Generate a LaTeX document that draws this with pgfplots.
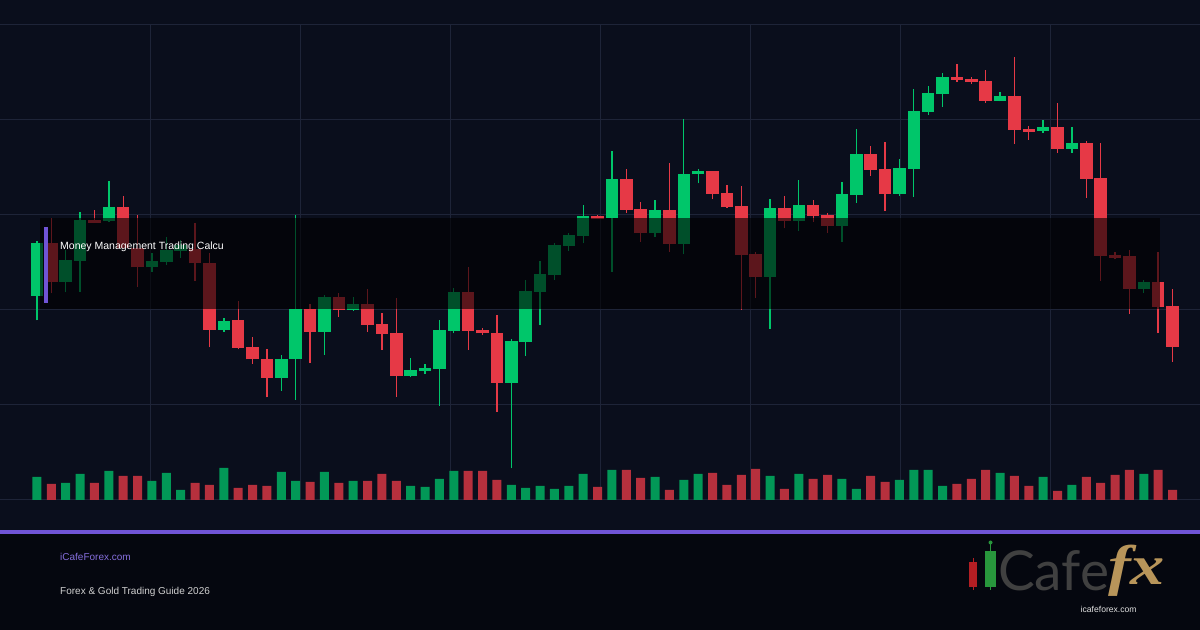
\documentclass[border=0pt]{standalone}
\usepackage{pgfplots}
\pgfplotsset{compat=1.18}
\usepackage{pgfplotstable}
\usepackage{fontspec}
\setmainfont{Liberation Sans}
\newfontfamily\logofont{Lato}
\newfontfamily\fxfont{Liberation Serif}
\definecolor{bg}{RGB}{10,14,28}
\definecolor{footbg}{RGB}{5,7,15}
\definecolor{gridc}{RGB}{30,36,56}
\definecolor{cgreen}{RGB}{0,198,106}
\definecolor{cred}{RGB}{230,57,70}
\definecolor{purp}{RGB}{112,84,214}
\definecolor{gold}{RGB}{184,149,90}
\definecolor{logored}{RGB}{180,30,35}
\definecolor{logogreen}{RGB}{40,150,60}

% up candles: index, open, high, low, close, volume
\pgfplotstableread{
i o h l c v
0 2204.3 2258.5 2179.5 2256.7 23
2 2218.3 2250 2207.5 2240 17
3 2239.3 2288 2208.3 2280 26
5 2279.3 2319 2278.3 2293 29
8 2232.5 2246.7 2228.3 2239 19
9 2238.3 2263 2235 2250 27
10 2249 2260 2242 2255 10
13 2170 2181.7 2168.3 2179.3 32
17 2122.3 2145 2109.3 2140.7 28
18 2140.7 2285 2100 2190.7 19
20 2168.3 2205 2145 2202.7 28
22 2190 2202.7 2189.3 2196 19
26 2124 2141.7 2122.7 2130 14
27 2129.3 2136 2126 2132.3 13
28 2131.3 2180 2094.3 2170 21
29 2169.3 2211.7 2166.7 2208 29
33 2117.3 2161.3 2031.7 2159.3 15
34 2158.3 2220 2144 2209.3 12
35 2208.3 2239 2175 2226 14
36 2225 2257.3 2220 2255 11
37 2254.3 2266.7 2249.3 2265 14
38 2264 2295 2256.7 2284 26
40 2282.3 2349 2228.3 2321 30
43 2266.7 2300 2263.3 2290 23
45 2256 2381 2245.7 2326 20
46 2325.7 2331 2316.7 2329 26
51 2223.3 2301 2171 2292.3 24
53 2279.3 2320 2269.3 2295 26
56 2274 2318.3 2258.3 2306 21
57 2305 2371 2297.3 2346 11
60 2306 2341 2304.3 2332 20
61 2331.3 2410.7 2303.3 2389 30
62 2388.3 2414 2385 2407 30
63 2406.3 2427.3 2393.3 2423 14
67 2399 2408.3 2398.5 2404 27
70 2369 2380 2367.3 2373 23
72 2351 2373.3 2347.3 2357 15
77 2211.3 2220 2207.3 2218 26
}\up

% down candles: index, open, high, low, close, volume
\pgfplotstableread{
i o h l c v
1 2256.7 2281.5 2206.5 2218.3 16
4 2280 2290 2277 2277.3 17
6 2293 2304 2251 2251.7 24
7 2251.7 2285 2213.3 2232.5 24
11 2251 2276.7 2219 2236.7 17
12 2236.7 2247 2152.7 2170 15
14 2180 2199 2150.7 2152.3 12
15 2152.7 2162.7 2136 2140.7 15
16 2140.7 2150.7 2102.7 2122.3 14
19 2190.7 2196 2137.3 2168.3 18
21 2202.7 2207.3 2183.3 2190 17
23 2196 2210.7 2168.3 2175 19
24 2176 2187.3 2150 2166 26
25 2167.3 2201.7 2103.3 2124 19
30 2208 2233.3 2150 2169.3 29
31 2170 2171.7 2165 2166.7 29
32 2167.3 2185 2088.3 2117.3 20
39 2284.3 2285 2280.5 2281 13
41 2321 2331 2287.3 2290 30
42 2291 2297.7 2258.3 2266.7 22
44 2290 2337.3 2248.3 2256 10
47 2329 2329 2300.7 2306 27
48 2307 2315 2292.3 2292.7 15
49 2294 2314 2190 2245 25
50 2246 2248.3 2202.3 2223.3 31
52 2292.3 2304 2271.7 2279.3 11
54 2295 2300 2278.3 2284 21
55 2285 2287.3 2267.3 2274 25
58 2346 2354 2324 2330 24
59 2331 2357.7 2289.3 2306 18
64 2423 2436 2418.3 2420 16
65 2421 2422.7 2416.3 2418 21
66 2419 2430 2397.3 2399 30
68 2404 2443.3 2356 2370 24
69 2371 2374 2360 2368 14
71 2373 2397.3 2347.3 2351 9
73 2357 2359 2302.3 2321.3 23
74 2322 2356.7 2219.3 2244 17
75 2245 2248.3 2240.7 2242.3 25
76 2244 2250 2186 2211 30
78 2218 2248.3 2167.3 2193.3 30
79 2194 2211.3 2138.3 2153.3 10
}\down

\begin{document}
\begin{tikzpicture}
\fill[bg] (0bp,0bp) rectangle (1200bp,630bp);
\useasboundingbox (0bp,0bp) rectangle (1200bp,630bp);
\fill[footbg] (0bp,0bp) rectangle (1200bp,96bp);

% price axis
\begin{axis}[at={(0bp,130bp)}, anchor=south west, scale only axis,
  width=1200bp, height=475bp,
  xmin=-2.574, xmax=80.915, ymin=2000, ymax=2475,
  xtick={7.862,18.298,28.734,39.171,49.607,60.043,70.479},
  ytick={2000,2095,2190,2285,2380,2475},
  xticklabels={}, yticklabels={},
  major tick length=0pt,
  grid=major, major grid style={draw=gridc, line width=1bp},
  axis line style={draw=none}]
% wicks
\addplot[draw=none, mark=none, forget plot, error bars/.cd, y dir=plus, y explicit, error mark=none,
  error bar style={draw=cgreen, line width=1.3bp}]
  table[x=i, y=l, y error expr=\thisrow{h}-\thisrow{l}] {\up};
\addplot[draw=none, mark=none, forget plot, error bars/.cd, y dir=plus, y explicit, error mark=none,
  error bar style={draw=cred, line width=1.3bp}]
  table[x=i, y=l, y error expr=\thisrow{h}-\thisrow{l}] {\down};
% bodies
\addplot[draw=none, mark=none, forget plot, error bars/.cd, y dir=plus, y explicit, error mark=none,
  error bar style={draw=cgreen, line width=12.5bp}]
  table[x=i, y=o, y error expr=\thisrow{c}-\thisrow{o}] {\up};
\addplot[draw=none, mark=none, forget plot, error bars/.cd, y dir=plus, y explicit, error mark=none,
  error bar style={draw=cred, line width=12.5bp}]
  table[x=i, y=c, y error expr=\thisrow{o}-\thisrow{c}] {\down};
\end{axis}

% volume axis
\begin{axis}[at={(0bp,130bp)}, anchor=south west, scale only axis,
  width=1200bp, height=475bp,
  xmin=-2.574, xmax=80.915, ymin=0, ymax=475,
  hide axis, ybar, bar width=9bp, bar shift=0pt]
\addplot[fill=cgreen!75!bg, draw=none] table[x=i, y=v] {\up};
\addplot[fill=cred!78!bg, draw=none] table[x=i, y=v] {\down};
\end{axis}

\begin{scope}[x=1bp,y=1bp]
% dark overlay band
\fill[black, opacity=0.6] (40,321) rectangle (1160,412);
\fill[purp] (44,326.7) rectangle (47.7,403.3);
\node[anchor=base west, inner sep=0pt, text=white] at (60,381)
  {\fontsize{10.5bp}{12bp}\selectfont Money Management Trading Calcu};
% separator line
\fill[purp] (0,96) rectangle (1200,100);
% footer text
\node[anchor=base west, inner sep=0pt, text=purp!85!white] at (60,70)
  {\fontsize{10bp}{12bp}\selectfont iCafeForex.com};
\node[anchor=base west, inner sep=0pt, text=white!82!black] at (60,36)
  {\fontsize{10bp}{12bp}\selectfont Forex \& Gold Trading Guide 2026};
% logo
\draw[logored, line width=1bp] (973.2,40) -- (973.2,72);
\fill[logored] (969,42.7) rectangle (977.3,68.3);
\draw[logogreen, line width=1bp] (990.5,40) -- (990.5,86);
\fill[logogreen] (990.5,87.5) circle (2);
\fill[logogreen] (985,42.7) rectangle (996,79);
\node[anchor=base west, inner sep=0pt, text=white!25!black] at (998,40)
  {\logofont\fontsize{55bp}{60bp}\selectfont Cafe};
\node[anchor=base west, inner sep=0pt, text=gold, xscale=1.22] at (1108,46)
  {\fxfont\bfseries\itshape\fontsize{56bp}{60bp}\selectfont fx};
\node[anchor=base west, inner sep=0pt, text=white!88!black] at (1080.5,18)
  {\fontsize{8.6bp}{10bp}\selectfont icafeforex.com};
\end{scope}
\end{tikzpicture}
\end{document}
